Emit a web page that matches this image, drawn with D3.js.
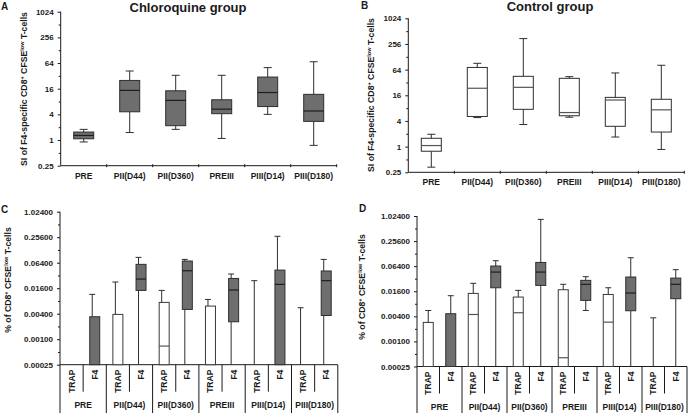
<!DOCTYPE html>
<html><head><meta charset="utf-8">
<script src="https://cdn.jsdelivr.net/npm/d3@7"></script>
<style>
body{margin:0;background:#fff;}
svg{display:block;font-family:"Liberation Sans",Arial,sans-serif;}
</style></head>
<body><svg id="c" width="691" height="413"></svg>
<script>
// ---------- data ----------
const timepoints = ["PRE","PII(D44)","PII(D360)","PREIII","PIII(D14)","PIII(D180)"];
const antigens = ["TRAP","F4"];
const siTicks = [0.25,1,4,16,64,256,1024];
const siTickLabels = ["0.25","1","4","16","64","256","1024"];
const siMinor = [0.5,2,8,32,128,512];
const pctTicks = [0.00025,0.001,0.004,0.016,0.064,0.256,1.024];
const pctTickLabels = ["0.00025","0.00100","0.00400","0.01600","0.06400","0.25600","1.02400"];
const pctMinor = [0.0005,0.002,0.008,0.032,0.128,0.512];
// [lower whisker, Q1, median, Q3, upper whisker]
const siChloroquine = [
  [0.9, 1.07, 1.28, 1.54, 1.78],
  [1.5, 4.6, 14.6, 25, 41.6],
  [1.78, 2.17, 8.5, 14.3, 33],
  [1.09, 4.15, 5.3, 8.8, 33],
  [4.0, 6.1, 13, 30, 50],
  [0.75, 2.74, 4.8, 11.8, 68.6]
];
const siControl = [
  [0.33, 0.78, 1.06, 1.57, 1.95],
  [4.8, 5.1, 23.4, 72, 90],
  [3.3, 7.5, 24.6, 44.6, 342],
  [4.9, 5.3, 6.3, 40, 43.8],
  [1.68, 3.0, 12.4, 14.3, 53.5],
  [0.86, 2.2, 7.3, 12.9, 81]
];
// values below the axis floor (0.00025) are given as 0.0001
const pctChloroquineTRAP = [
  [0.0001,0.0001,0.0001,0.0001,0.0001],
  [0.0001,0.0001,0.0001,0.00385,0.0224],
  [0.0001,0.0001,0.000688,0.00739,0.0142],
  [0.0001,0.0001,0.0001,0.00605,0.00869],
  [0.0001,0.0001,0.0001,0.0001,0.0241],
  [0.0001,0.0001,0.0001,0.0001,0.00553]
];
const pctChloroquineF4 = [
  [0.0001,0.0001,0.0001,0.00339,0.01145],
  [0.0001,0.0142,0.0263,0.0585,0.0855],
  [0.0001,0.00505,0.0413,0.0700,0.0766],
  [0.0001,0.00258,0.0145,0.0272,0.0346],
  [0.0001,0.0001,0.0197,0.0428,0.269],
  [0.0001,0.00363,0.0241,0.0408,0.0766]
];
const pctControlTRAP = [
  [0.0001,0.0001,0.0001,0.00286,0.00553],
  [0.0001,0.0001,0.00443,0.0142,0.0248],
  [0.0001,0.0001,0.00488,0.0116,0.0168],
  [0.0001,0.0001,0.000406,0.0174,0.0235],
  [0.0001,0.0001,0.0029,0.0134,0.0194],
  [0.0001,0.0001,0.0001,0.0001,0.00368]
];
const pctControlF4 = [
  [0.0001,0.0001,0.0001,0.00462,0.0125],
  [0.0001,0.0194,0.0462,0.0645,0.0866],
  [0.0001,0.0221,0.0462,0.0786,0.85],
  [0.00553,0.00965,0.0235,0.0292,0.0358],
  [0.0001,0.00545,0.0145,0.0351,0.102],
  [0.0001,0.0106,0.0235,0.0331,0.0527]
];

// ---------- drawing ----------
const svg = d3.select("#c");
const INK = "#1a1a1a", GRAY = "#6e6e6e", EDGE = "#2e2e2e";

function yAxis(g, y, ticks, labels, minor, x0){
  const ax = g.append("g").attr("transform",`translate(${x0},0)`)
    .call(d3.axisLeft(y).tickValues(ticks).tickFormat((d,i)=>labels[i]).tickSize(3).tickPadding(4));
  ax.select(".domain").remove();
  ax.selectAll("line").attr("stroke",INK);
  ax.selectAll("text").attr("font-size","8px").attr("font-weight","bold").attr("fill",INK)
    .attr("font-family","Liberation Sans, Arial, sans-serif");
  const mn = g.append("g").attr("transform",`translate(${x0},0)`)
    .call(d3.axisLeft(y).tickValues(minor).tickFormat("").tickSize(2));
  mn.select(".domain").remove();
  mn.selectAll("line").attr("stroke",INK);
}

function box(g, cx, w, y, d, fill, stroke, medStroke, capW, wOff){
  const [lo,q1,med,q3,hi] = d;
  const wx = cx + wOff;
  const base = y.range()[0];
  // upper whisker
  g.append("line").attr("x1",wx).attr("x2",wx).attr("y1",y(q3)).attr("y2",y(hi)).attr("stroke",EDGE);
  if (y(hi) < base - 0.5)
    g.append("line").attr("x1",wx-capW/2).attr("x2",wx+capW/2).attr("y1",y(hi)).attr("y2",y(hi)).attr("stroke",EDGE);
  // lower whisker
  g.append("line").attr("x1",wx).attr("x2",wx).attr("y1",y(q1)).attr("y2",y(lo)).attr("stroke",EDGE);
  if (y(lo) < base - 0.5)
    g.append("line").attr("x1",wx-capW/2).attr("x2",wx+capW/2).attr("y1",y(lo)).attr("y2",y(lo)).attr("stroke",EDGE);
  if (y(q1) - y(q3) > 0.5)
    g.append("rect").attr("x",cx-w/2).attr("width",w).attr("y",y(q3)).attr("height",y(q1)-y(q3))
      .attr("fill",fill).attr("stroke",stroke).attr("stroke-width",1);
  if (y(med) < base - 0.5)
    g.append("line").attr("x1",cx-w/2).attr("x2",cx+w/2).attr("y1",y(med)).attr("y2",y(med))
      .attr("stroke",medStroke).attr("stroke-width",1.2);
}

function yTitle(g, cx, cy, parts){
  const t = g.append("text").attr("transform",`translate(${cx},${cy}) rotate(-90)`)
    .attr("text-anchor","middle").attr("font-size","8.7px").attr("font-weight","bold").attr("fill",INK);
  parts.forEach(p=>{
    const s = t.append("tspan").text(p.t);
    if (p.sup) s.attr("font-size","5.5px").attr("dy","-3.2");
    else if (p.after) s.attr("dy","3.2");
  });
}
const siTitle = [{t:"SI of F4-specific CD8"},{t:"+",sup:1},{t:" CFSE",after:1},{t:"low",sup:1},{t:" T-cells",after:1}];
const pctTitle = [{t:"% of CD8"},{t:"+",sup:1},{t:" CFSE",after:1},{t:"low",sup:1},{t:" T-cells",after:1}];

function siPanel(opt){
  const g = svg.append("g");
  const y = d3.scaleLog().base(2).domain([0.25,1024]).range([opt.yb, opt.yt]).clamp(true);
  const x = d3.scaleBand().domain(timepoints).range([opt.x0, opt.x0 + 6*opt.bw]);
  // axes lines
  g.append("line").attr("x1",opt.x0).attr("x2",opt.x0).attr("y1",opt.yt).attr("y2",opt.yb).attr("stroke",INK);
  g.append("line").attr("x1",opt.x0).attr("x2",x.range()[1]).attr("y1",opt.yb).attr("y2",opt.yb).attr("stroke",INK);
  timepoints.forEach((c,i)=>{ if(i>0) g.append("line").attr("x1",x(c)).attr("x2",x(c))
      .attr("y1",opt.yb-1.5).attr("y2",opt.yb+1.5).attr("stroke",INK); });
  g.append("line").attr("x1",x.range()[1]).attr("x2",x.range()[1]).attr("y1",opt.yb-1.5).attr("y2",opt.yb+1.5).attr("stroke",INK);
  yAxis(g, y, siTicks, siTickLabels, siMinor, opt.x0);
  timepoints.forEach((c,i)=>{
    g.append("text").attr("x",x(c)+x.bandwidth()/2).attr("y",opt.yb+13).attr("text-anchor","middle")
      .attr("font-size","8.5px").attr("font-weight","bold").attr("fill",INK).text(c);
    box(g, x(c)+x.bandwidth()/2, 20, y, opt.data[i], opt.fill, EDGE, opt.med, 8, 0);
  });
  g.append("text").attr("x",opt.titleX).attr("y",opt.titleY).attr("text-anchor","middle")
    .attr("font-size","13px").attr("font-weight","bold").attr("fill",INK).text(opt.title);
  g.append("text").attr("x",opt.lx).attr("y",opt.ly).attr("font-size","10px").attr("font-weight","bold").attr("fill",INK).text(opt.letter);
  yTitle(g, opt.ytx, opt.yty, siTitle);
}

function pctPanel(opt){
  const g = svg.append("g");
  const y = d3.scaleLog().base(2).domain([0.00025,1.024]).range([opt.yb, opt.yt]).clamp(true);
  const x = d3.scaleBand().domain(timepoints).range([opt.x0, opt.x0 + 6*opt.bw]);
  const xs = d3.scaleBand().domain(antigens).range([0, x.bandwidth()]);
  const bottom = 413;
  g.append("line").attr("x1",opt.x0).attr("x2",opt.x0).attr("y1",opt.yt).attr("y2",bottom).attr("stroke",INK);
  g.append("line").attr("x1",opt.x0).attr("x2",x.range()[1]).attr("y1",opt.yb).attr("y2",opt.yb).attr("stroke",INK);
  yAxis(g, y, pctTicks, pctTickLabels, pctMinor, opt.x0);
  timepoints.forEach((c,i)=>{
    const gx = x(c);
    // group separator (right edge)
    g.append("line").attr("x1",gx+x.bandwidth()).attr("x2",gx+x.bandwidth()).attr("y1",opt.yb).attr("y2",bottom).attr("stroke",INK);
    g.append("line").attr("x1",gx+xs("F4")).attr("x2",gx+xs("F4")).attr("y1",opt.yb).attr("y2",opt.yb+27).attr("stroke",INK);
    antigens.forEach(a=>{
      g.append("text").attr("transform",`translate(${gx+xs(a)+xs.bandwidth()/2+3},${opt.yb+5}) rotate(-90)`)
        .attr("text-anchor","end").attr("font-size","8.5px").attr("font-weight","bold").attr("fill",INK).text(a);
    });
    g.append("text").attr("x",gx+x.bandwidth()/2).attr("y",opt.yb+43).attr("text-anchor","middle")
      .attr("font-size","8.5px").attr("font-weight","bold").attr("fill",INK).text(c);
    box(g, gx+xs("TRAP")+xs.bandwidth()/2, 10, y, opt.trap[i], "#fff", "#3a3a3a", "#555", 6, opt.wOff);
    box(g, gx+xs("F4")+xs.bandwidth()/2, 10, y, opt.f4[i], GRAY, EDGE, "#1e1e1e", 6, opt.wOff);
  });
  g.append("text").attr("x",opt.lx).attr("y",opt.ly).attr("font-size","10px").attr("font-weight","bold").attr("fill",INK).text(opt.letter);
  yTitle(g, opt.ytx, opt.yty, pctTitle);
}

siPanel({x0:60.7,bw:46,yt:11.7,yb:165.7,data:siChloroquine,fill:GRAY,med:"#1e1e1e",
  title:"Chloroquine group",titleX:188,titleY:12,letter:"A",lx:1,ly:10,ytx:27,yty:89});
siPanel({x0:408.3,bw:46,yt:18.3,yb:172.3,data:siControl,fill:"#fff",med:"#555",
  title:"Control group",titleX:550,titleY:11,letter:"B",lx:361,ly:9,ytx:374,yty:95});
pctPanel({x0:60,bw:46.3,yt:211.7,yb:364.7,trap:pctChloroquineTRAP,f4:pctChloroquineF4,wOff:-2.5,
  letter:"C",lx:1,ly:213,ytx:11,yty:280});
pctPanel({x0:417,bw:45,yt:216,yb:366.5,trap:pctControlTRAP,f4:pctControlF4,wOff:0,
  letter:"D",lx:359,ly:212,ytx:365,yty:287});
</script></body></html>
